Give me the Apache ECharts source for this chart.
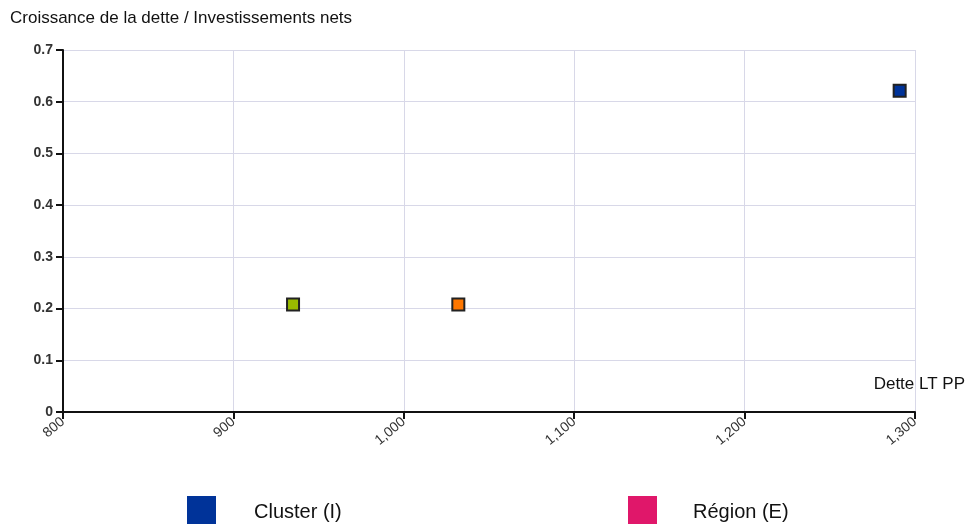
<!DOCTYPE html>
<html><head><meta charset="utf-8">
<script src="https://cdn.jsdelivr.net/npm/echarts@6/dist/echarts.min.js"></script>
<style>html,body{margin:0;padding:0;background:#fff}#c{width:969px;height:524px}</style>
</head><body><div id="c"></div>
<script>
const title = 'Croissance de la dette / Investissements nets';
const xName = 'Dette LT PP';
const clusterPoint = [[1291, 0.621]];
const greenPoint = [[935, 0.208]];
const orangePoint = [[1032, 0.208]];
const regionPoint = [];
const legendNames = ['Cluster (I)', 'Région (E)'];
const colors = { cluster: '#003399', region: '#e0176a', green: '#99bb00', orange: '#ff7700' };

const chart = echarts.init(document.getElementById('c'));
const mk = (name, data, color) => ({
  name, type: 'scatter', data, symbol: 'rect', symbolSize: 12,
  itemStyle: { color, borderColor: '#222', borderWidth: 2, opacity: 1 },
  emphasis: { disabled: true }
});
chart.setOption({
  animation: false,
  textStyle: { fontFamily: 'Liberation Sans, Arial, sans-serif' },
  title: { text: title, left: 10, top: 10, padding: 0, textStyle: { fontSize: 17, fontWeight: 'normal', color: '#111' } },
  grid: { left: 63, right: 54, top: 50, bottom: 112 },
  xAxis: {
    type: 'value', min: 800, max: 1300, interval: 100,
    name: xName, nameLocation: 'end', nameGap: 0,
    nameTextStyle: { fontSize: 17, color: '#111', align: 'right', verticalAlign: 'bottom', padding: [0, -50, 19, 0] },
    axisLine: { lineStyle: { color: '#111', width: 2 } },
    axisTick: { show: true, length: 7, lineStyle: { color: '#111', width: 2 } },
    axisLabel: { rotate: 40, fontSize: 14, color: '#333', margin: 8,
      formatter: v => v >= 1000 ? Math.floor(v/1000) + ',' + String(v%1000).padStart(3,'0') : String(v) },
    splitLine: { show: true, lineStyle: { color: '#d8d8e8', width: 1 } }
  },
  yAxis: {
    type: 'value', min: 0, max: 0.7, interval: 0.1,
    axisLine: { show: true, lineStyle: { color: '#111', width: 2 } },
    axisTick: { show: true, length: 7, lineStyle: { color: '#111', width: 2 } },
    axisLabel: { fontSize: 14, fontWeight: 'bold', color: '#333', margin: 10, formatter: v => v === 0 ? '0' : v.toFixed(1) },
    splitLine: { show: true, lineStyle: { color: '#d8d8e8', width: 1 } }
  },
  legend: [
    { data: [legendNames[0]], left: 187, top: 496, padding: 0, itemWidth: 29, itemHeight: 32, icon: 'rect', itemGap: 0,
      itemStyle: { borderWidth: 0 },
      textStyle: { fontSize: 20, color: '#111', padding: [0, 0, 0, 33] } },
    { data: [legendNames[1]], left: 628, top: 496, padding: 0, itemWidth: 29, itemHeight: 32, icon: 'rect', itemGap: 0,
      itemStyle: { borderWidth: 0 },
      textStyle: { fontSize: 20, color: '#111', padding: [0, 0, 0, 31] } }
  ],
  series: [
    mk(legendNames[0], clusterPoint, colors.cluster),
    mk(legendNames[1], regionPoint, colors.region),
    mk('Autre 1', greenPoint, colors.green),
    mk('Autre 2', orangePoint, colors.orange)
  ]
});
</script></body></html>
